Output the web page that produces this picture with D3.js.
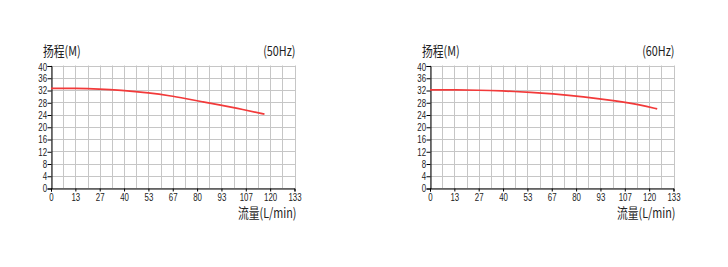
<!DOCTYPE html>
<html>
<head>
<meta charset="utf-8">
<style>
body { margin: 0; background: #fff; }
svg text { fill: #222; }
</style>
</head>
<body>
<svg width="728" height="267"></svg>
<script src="https://d3js.org/d3.v7.min.js"></script>
<script>
// pump curves: head (M) vs flow (L/min)
var xTickLabels = ["0", "13", "27", "40", "53", "67", "80", "93", "107", "120", "133"];
var yTickLabels = [0, 4, 8, 12, 16, 20, 24, 28, 32, 36, 40];
var flow50 = [0, 13.3, 26.7, 37.6, 54, 64.9, 74, 83, 92, 104.9, 116.6];
var head50 = [32.7, 32.7, 32.5, 32.1, 31.2, 30.3, 29.3, 28.3, 27.3, 25.8, 24.3];
var flow60 = [0, 13.3, 26.7, 38.3, 56.5, 65.7, 83.8, 102, 115, 124.1];
var head60 = [32.2, 32.2, 32.1, 31.9, 31.4, 31.0, 30.0, 28.6, 27.3, 26.0];

var xMax = 133, yMax = 40;
var svg = d3.select("svg");
var sx = 0.8; // narrow text look

function chart(left, freq, flows, heads) {
  var x = d3.scaleLinear().domain([0, xMax]).range([left, left + 243.5]);
  var y = d3.scaleLinear().domain([0, yMax]).range([188.5, 66]);
  var g = svg.append("g");

  // grid
  var vgrid = d3.range(0, 21).map(function(i) { return i * xMax / 20; });
  g.selectAll(".vg").data(vgrid).enter().append("line")
    .attr("x1", function(d) { return Math.round(x(d)) + 0.5; })
    .attr("x2", function(d) { return Math.round(x(d)) + 0.5; })
    .attr("y1", y(yMax) - 0.5).attr("y2", y(0))
    .attr("stroke", "#c6c6c6");
  g.selectAll(".hg").data(yTickLabels).enter().append("line")
    .attr("x1", x(0)).attr("x2", Math.round(x(xMax)) + 0.5)
    .attr("y1", function(d) { return Math.round(y(d) - 0.5) + 0.5; })
    .attr("y2", function(d) { return Math.round(y(d) - 0.5) + 0.5; })
    .attr("stroke", "#c6c6c6");

  // axes
  var xt = xTickLabels.map(function(d, i) { return i * xMax / 10; });
  var ax = g.append("g").attr("transform", "translate(0,188.5)")
    .call(d3.axisBottom(x).tickValues(xt).tickSize(3).tickPadding(2)
      .tickFormat(function(d, i) { return xTickLabels[i]; }));
  var ay = g.append("g").attr("transform", "translate(" + (Math.round(x(0)) + 0.5) + ",0)")
    .call(d3.axisLeft(y).tickValues(yTickLabels).tickSize(4).tickPadding(2));
  [ax, ay].forEach(function(a) {
    a.select(".domain").attr("stroke", "#000");
    a.selectAll(".tick line").attr("stroke", "#000");
    a.selectAll("text").attr("font-family", "Liberation Sans, Arial, sans-serif")
      .attr("font-size", 10.5).attr("fill", "#222")
      .attr("transform", "scale(0.75,1)");
  });
  // top label sits a little lower in the original
  ay.selectAll(".tick text").filter(function(d) { return d === yMax; }).attr("y", 1);

  // curve
  var pts = flows.map(function(f, i) { return [f, heads[i]]; });
  g.append("path").datum(pts)
    .attr("fill", "none").attr("stroke", "#f23a3a").attr("stroke-width", 1.7)
    .attr("d", d3.line().x(function(d) { return x(d[0]); }).y(function(d) { return y(d[1]); })
      .curve(d3.curveBasis));

  // labels
  function label(t, px, py, anchor, size) {
    g.append("text").text(t)
      .attr("transform", "translate(" + px + "," + py + ") scale(" + sx + ",1)")
      .attr("text-anchor", anchor)
      .attr("font-family", "Noto Sans CJK SC, sans-serif")
      .attr("font-size", size);
  }
  label("扬程(M)", x(0) - 8, 56, "start", 13.5);
  label("(" + freq + ")", x(xMax) + 1, 56, "end", 13.5);
  label("流量(L/min)", x(xMax) + 2, 218, "end", 13.5);
}

chart(51, "50Hz", flow50, head50);
chart(430, "60Hz", flow60, head60);
</script>
</body>
</html>
